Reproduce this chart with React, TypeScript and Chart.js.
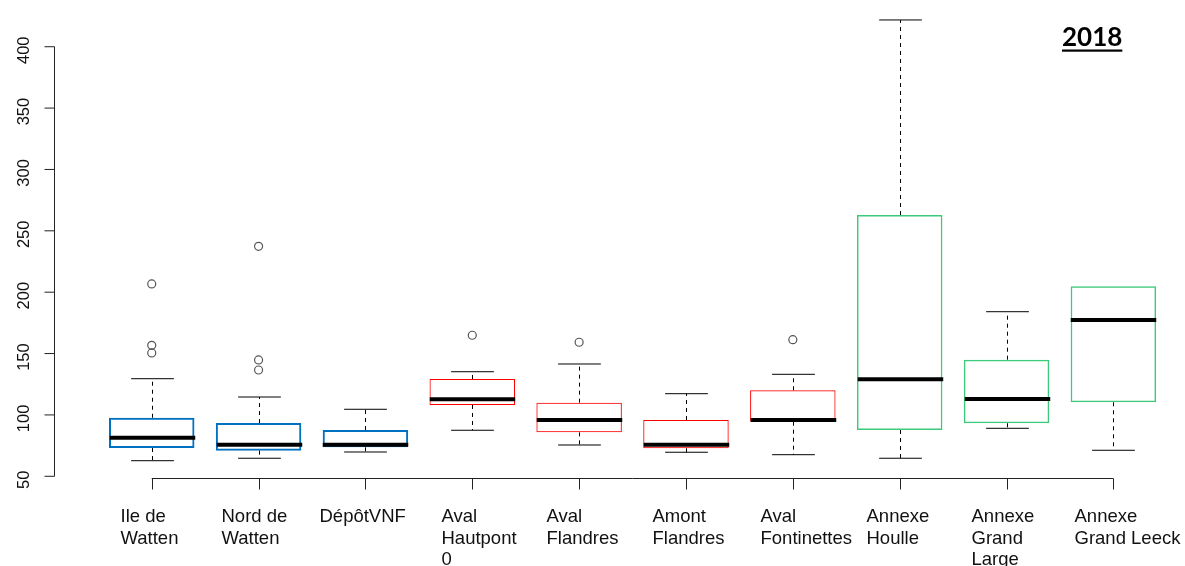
import React, { useEffect, useRef } from 'react';
import { Chart, registerables } from 'chart.js';

Chart.register(...registerables);

// Sampling sites (each entry holds the lines of its axis label)
const SITES: string[][] = [
  ['Ile de', 'Watten'],
  ['Nord de', 'Watten'],
  ['DépôtVNF'],
  ['Aval', 'Hautpont', '0'],
  ['Aval', 'Flandres'],
  ['Amont', 'Flandres'],
  ['Aval', 'Fontinettes'],
  ['Annexe', 'Houlle'],
  ['Annexe', 'Grand', 'Large'],
  ['Annexe', 'Grand Leeck'],
];

// Five-number summaries per site
const WHISKER_LOW = [62.7, 64.7, 69.8, 87.5, 75.5, 69.6, 67.6, 64.7, 89.1, 71.2];
const Q1 = [73.0, 70.9, 73.6, 108.1, 85.8, 72.8, 94.5, 87.7, 93.2, 110.3];
const MEDIAN = [81.4, 75.7, 75.7, 112.7, 95.9, 75.7, 95.9, 129.0, 113.0, 177.3];
const Q3 = [97.7, 93.4, 87.7, 129.3, 110.0, 95.9, 120.1, 262.9, 145.0, 204.8];
const WHISKER_HIGH = [129.5, 114.6, 104.6, 135.2, 141.5, 117.3, 133.1, 421.8, 184.1, 204.8];

// Points beyond the whiskers
const OUTLIERS: number[][] = [
  [206.7, 156.7, 150.5],
  [237.4, 144.8, 136.6],
  [],
  [164.9],
  [159.2],
  [],
  [161.3],
  [],
  [],
  [],
];

const Y_TICKS = [50, 100, 150, 200, 250, 300, 350, 400];
const GROUP = ['blue', 'blue', 'blue', 'red', 'red', 'red', 'red', 'green', 'green', 'green'];
const YEAR = '2018';

// Styling / layout
const GROUP_STYLE: Record<string, { color: string; width: number }> = {
  blue: { color: '#0070C0', width: 2 },
  red: { color: '#FF0000', width: 1 },
  green: { color: '#3DC97A', width: 1.5 },
};
const LABEL_SHIFT = [-32, -38, -46, -31, -33, -34, -33, -34, -36, -39];
const LABEL_FONT = '18.5px "Liberation Sans", Arial, sans-serif';
const TICK_FONT = '16.5px "Liberation Sans", Arial, sans-serif';

function seg(ctx: CanvasRenderingContext2D, x1: number, y1: number, x2: number, y2: number) {
  ctx.beginPath();
  ctx.moveTo(x1, y1);
  ctx.lineTo(x2, y2);
  ctx.stroke();
}

const boxplotPlugin = {
  id: 'rBoxplot',
  afterDatasetsDraw(chart: any) {
    const { ctx } = chart;
    const xs = chart.scales.x;
    const ys = chart.scales.y;
    const bars = chart.getDatasetMeta(0).data;
    ctx.save();
    SITES.forEach((_, i) => {
      const cx = Math.round(xs.getPixelForValue(i)) + 0.5;
      const half = bars[i].width / 2;
      const yLo = ys.getPixelForValue(WHISKER_LOW[i]);
      const yQ1 = ys.getPixelForValue(Q1[i]);
      const yMed = ys.getPixelForValue(MEDIAN[i]);
      const yQ3 = ys.getPixelForValue(Q3[i]);
      const yHi = ys.getPixelForValue(WHISKER_HIGH[i]);

      ctx.strokeStyle = '#000';
      ctx.lineWidth = 1;
      // dashed whiskers
      ctx.setLineDash([4, 4]);
      if (WHISKER_HIGH[i] > Q3[i]) seg(ctx, cx, yQ3, cx, yHi);
      if (WHISKER_LOW[i] < Q1[i]) seg(ctx, cx, yQ1, cx, yLo);
      ctx.setLineDash([]);
      // staples
      if (WHISKER_HIGH[i] > Q3[i]) seg(ctx, cx - half / 2, yHi, cx + half / 2, yHi);
      if (WHISKER_LOW[i] < Q1[i]) seg(ctx, cx - half / 2, yLo, cx + half / 2, yLo);
      // median
      ctx.lineWidth = 4;
      ctx.lineCap = 'butt';
      seg(ctx, cx - half, yMed, cx + half, yMed);
    });
    ctx.restore();
  },
  afterDraw(chart: any) {
    const { ctx, chartArea } = chart;
    const xs = chart.scales.x;
    const ys = chart.scales.y;
    ctx.save();
    ctx.strokeStyle = '#222';
    ctx.fillStyle = '#111';
    ctx.lineWidth = 1;

    // y axis (R style: spans first to last tick)
    const ax = Math.round(chartArea.left - 44) + 0.5;
    const yTop = ys.getPixelForValue(Y_TICKS[Y_TICKS.length - 1]);
    const yBot = ys.getPixelForValue(Y_TICKS[0]);
    seg(ctx, ax, yTop, ax, yBot);
    ctx.font = TICK_FONT;
    ctx.textAlign = 'center';
    ctx.textBaseline = 'alphabetic';
    Y_TICKS.forEach((t) => {
      const py = ys.getPixelForValue(t);
      seg(ctx, ax - 10, py, ax, py);
      ctx.save();
      ctx.translate(ax - 26, py + 3.5);
      ctx.rotate(-Math.PI / 2);
      ctx.fillText(String(t), 0, 0);
      ctx.restore();
    });

    // x axis
    const ay = Math.round(chartArea.bottom) - 0.5;
    const xFirst = xs.getPixelForValue(0);
    const xLast = xs.getPixelForValue(SITES.length - 1);
    seg(ctx, xFirst, ay, xLast, ay);
    ctx.font = LABEL_FONT;
    ctx.textAlign = 'left';
    SITES.forEach((lines, i) => {
      const px = Math.round(xs.getPixelForValue(i)) + 0.5;
      seg(ctx, px, ay, px, ay + 11);
      lines.forEach((line, k) => {
        ctx.fillText(line, px + LABEL_SHIFT[i], ay + 43.5 + k * 21.6);
      });
    });

    // year heading, bold and underlined
    ctx.fillStyle = '#000';
    ctx.font = 'bold 26px Lato, "Open Sans", sans-serif';
    ctx.textAlign = 'left';
    const w = ctx.measureText(YEAR).width;
    ctx.fillText(YEAR, 1062, 46);
    ctx.fillRect(1062, 49.5, w, 2.2);
    ctx.restore();
  },
};

export default function App() {
  const canvasRef = useRef<HTMLCanvasElement | null>(null);

  useEffect(() => {
    if (!canvasRef.current) return;
    const labels = SITES.map((s) => s.join(' '));
    const outlierPoints = OUTLIERS.flatMap((vals, i) => vals.map((v) => ({ x: labels[i], y: v })));
    const chart = new Chart(canvasRef.current, {
      type: 'bar',
      data: {
        labels,
        datasets: [
          {
            type: 'bar',
            label: 'box',
            data: Q1.map((q, i) => [q, Q3[i]]) as any,
            backgroundColor: 'rgba(255,255,255,0)',
            borderColor: GROUP.map((g) => GROUP_STYLE[g].color),
            borderWidth: GROUP.map((g) => GROUP_STYLE[g].width) as any,
            borderSkipped: false,
            barPercentage: 0.8,
            categoryPercentage: 1.0,
          },
          {
            type: 'line',
            label: 'outliers',
            data: outlierPoints as any,
            showLine: false,
            pointStyle: 'circle',
            pointRadius: 4,
            pointBorderWidth: 1.2,
            pointBorderColor: '#555',
            pointBackgroundColor: 'rgba(0,0,0,0)',
          } as any,
        ],
      },
      options: {
        responsive: false,
        animation: false,
        devicePixelRatio: 1,
        layout: { padding: { left: 98.3, right: 18.2, top: 9.9, bottom: 87.5 } },
        plugins: { legend: { display: false }, tooltip: { enabled: false }, title: { display: false } },
        scales: {
          x: { type: 'category', offset: true, display: false },
          y: { type: 'linear', min: 48.2, max: 430, display: false },
        },
      },
      plugins: [boxplotPlugin],
    });
    return () => chart.destroy();
  }, []);

  return (
    <div style={{ position: 'absolute', left: 0, top: 0, width: 1185, height: 566, background: '#fff' }}>
      <canvas ref={canvasRef} width={1185} height={566} style={{ display: 'block' }} />
    </div>
  );
}
